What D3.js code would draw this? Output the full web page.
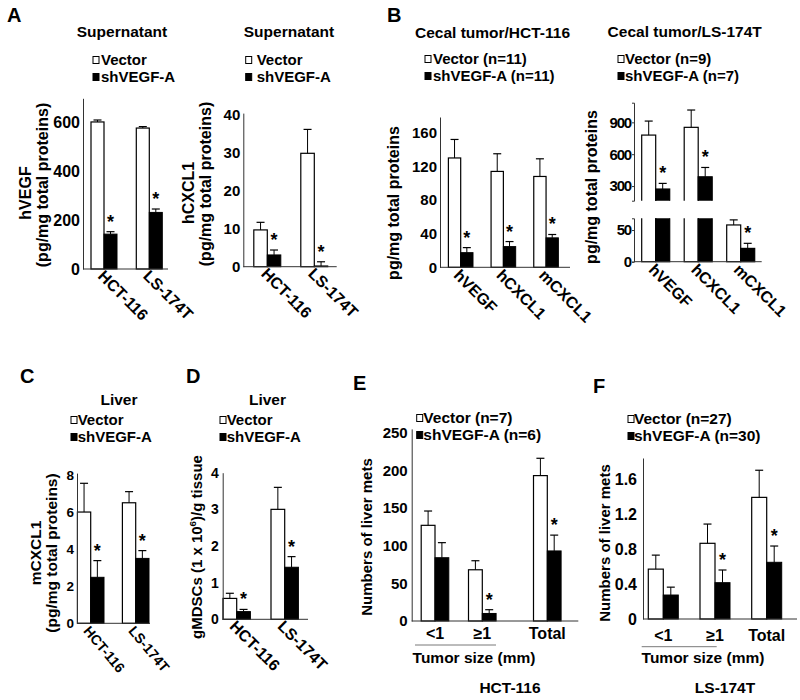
<!DOCTYPE html>
<html><head><meta charset="utf-8">
<script src="https://cdn.jsdelivr.net/npm/d3@7"></script>
<style>body{margin:0;background:#fff}</style>
</head><body><svg id="c" width="800" height="700"></svg>
<script>
// ---------------- DATA ----------------
const legendBasic = ["Vector", "shVEGF-A"];
// Panel A (Supernatant)
const cellLines = ["HCT-116", "LS-174T"];
const aVegfVector = [603, 578], aVegfVectorErr = [8, 6];
const aVegfSh = [143, 232], aVegfShErr = [10, 14];
const aVegfStars = [true, true];
const aVegfTicks = [0, 200, 400, 600];
const aCxclVector = [9.7, 29.9], aCxclVectorErr = [2.0, 6.3];
const aCxclSh = [3.1, 0.2], aCxclShErr = [1.3, 1.1];
const aCxclStars = [true, true];
const aCxclTicks = [0, 10, 20, 30, 40];
// Panel B (Cecal tumor)
const cytokines = ["hVEGF", "hCXCL1", "mCXCL1"];
const bHctLegend = ["Vector (n=11)", "shVEGF-A (n=11)"];
const bHctVector = [130, 114, 108], bHctVectorErr = [22, 21, 21];
const bHctSh = [17.4, 24.6, 35], bHctShErr = [6, 6, 4];
const bHctStars = [true, true, true];
const bHctTicks = [0, 40, 80, 120, 160];
const bLsLegend = ["Vector (n=9)", "shVEGF-A (n=7)"];
const bLsVector = [780, 853, 58], bLsVectorErr = [132, 163, 8];
const bLsSh = [272, 387, 21], bLsShErr = [53, 88, 8];
const bLsStars = [true, true, true];
const bLsTicksUpper = [300, 600, 900];
const bLsTicksLower = [0, 50];
// Panel C (Liver mCXCL1)
const cVector = [6.0, 6.5], cVectorErr = [1.55, 0.6];
const cSh = [2.48, 3.5], cShErr = [0.9, 0.42];
const cStars = [true, true];
const cTicks = [0, 2, 4, 6, 8];
// Panel D (Liver gMDSCs)
const dVector = [0.57, 3.0], dVectorErr = [0.14, 0.6];
const dSh = [0.21, 1.42], dShErr = [0.06, 0.29];
const dStars = [true, true];
const dTicks = [0, 1, 2, 3, 4];
// Panel E (HCT-116 liver mets)
const sizeCats = ["<1", "\u22651", "Total"];
const eLegend = ["Vector (n=7)", "shVEGF-A (n=6)"];
const eVector = [127, 68, 193], eVectorErr = [19, 12, 23];
const eSh = [84, 10, 93], eShErr = [20, 5, 21];
const eStars = [false, true, true];
const eTicks = [0, 50, 100, 150, 200, 250];
// Panel F (LS-174T liver mets)
const fLegend = ["Vector (n=27)", "shVEGF-A (n=30)"];
const fVector = [0.57, 0.865, 1.39], fVectorErr = [0.16, 0.22, 0.31];
const fSh = [0.274, 0.415, 0.648], fShErr = [0.09, 0.145, 0.186];
const fStars = [false, true, true];
const fTicks = [0, 0.4, 0.8, 1.2, 1.6];

// ---------------- DRAWING ----------------
const FONT = "'Liberation Sans', Arial, Helvetica, sans-serif";
const AX = "#333";
const svg = d3.select("#c").attr("font-family", FONT).attr("font-weight", "bold");
svg.append("rect").attr("width", 800).attr("height", 700).attr("fill", "#fff");
const defs = svg.append("defs");

function txt(g, s, x, y, size, anchor = "middle") {
  return g.append("text").attr("x", x).attr("y", y).attr("font-size", size)
    .attr("text-anchor", anchor).attr("fill", "#000").text(s);
}
function vtxt(g, s, x, y, size) {
  return g.append("text").attr("transform", `translate(${x},${y}) rotate(-90)`)
    .attr("text-anchor", "middle").attr("dy", "0.35em").attr("font-size", size).attr("fill", "#000").text(s);
}
function legend(g, o, labels) {
  labels.forEach((t, i) => {
    const yb = o.y + i * (o.dy || 17);
    g.append("rect").attr("x", o.x).attr("y", yb - 8.5).attr("width", 6).attr("height", 7)
      .attr("fill", i ? "#000" : "#fff").attr("stroke", "#000").attr("stroke-width", 1);
    txt(g, t, o.tx, yb, o.size || 15, "start");
  });
}
function errBar(g, cx, y0, y1) {
  g.append("line").attr("x1", cx).attr("x2", cx).attr("y1", y0).attr("y2", y1).attr("stroke", "#000").attr("stroke-width", 1);
  g.append("line").attr("x1", cx - 4).attr("x2", cx + 4).attr("y1", y1).attr("y2", y1).attr("stroke", "#000").attr("stroke-width", 1.2);
}
function star(g, cx, capY) {
  txt(g, "*", cx, capY - 4, 18);
}
function yAxis(g, x0, y, ticks, o) {
  const ax = g.append("g").attr("transform", `translate(${x0},0)`)
    .call(d3.axisLeft(y).tickValues(ticks).tickSize(o.tickSize || 0).tickSizeOuter(o.tickSize || 0)
      .tickPadding(o.tickPad).tickFormat(d3.format("")));
  ax.attr("font-size", o.tickFont).attr("font-family", FONT).attr("font-weight", "bold");
  ax.selectAll("text").attr("fill", "#000");
  if (o.tickSpacing) ax.selectAll("text").attr("letter-spacing", o.tickSpacing);
  ax.selectAll("line").attr("stroke", AX);
  ax.select(".domain").attr("stroke", AX);
  return ax;
}
function bandX(o) {
  const n = o.cats.length;
  const step = (o.band[1] - o.band[0]) / n;
  const pi = 1 - 2 * o.barW / step;
  return d3.scaleBand().domain(o.cats).range(o.band).paddingInner(pi).paddingOuter(pi / 2);
}
function xLabels(g, o, centers, y0) {
  o.cats.forEach((c, i) => {
    if (o.xRot) {
      g.append("text").attr("transform", `translate(${centers[i] + o.xdx},${y0 + o.xdy}) rotate(${o.xRot})`)
        .attr("font-size", o.xFont).attr("text-anchor", "start").attr("fill", "#000").text(c);
    } else {
      txt(g, c, centers[i], o.xLabelY, o.xFont);
    }
  });
}

function barPanel(o) {
  const g = svg.append("g");
  const x = bandX(o);
  const n = o.cats.length;
  const bw = x.bandwidth() / 2;
  const off = i => (i === n - 1 && o.lastGap) ? o.lastGap : 0;
  const y = d3.scaleLinear().domain(o.yDomain).range(o.yRange);
  const centers = [];
  o.cats.forEach((c, i) => {
    const xv = x(c) + off(i), xs = xv + bw;
    centers.push(xs);
    g.append("rect").attr("x", xv).attr("width", bw).attr("y", y(o.vec[i])).attr("height", y(0) - y(o.vec[i]))
      .attr("fill", "#fff").attr("stroke", "#000").attr("stroke-width", 1.2);
    errBar(g, xv + bw / 2, y(o.vec[i]), y(o.vec[i] + o.vecErr[i]));
    g.append("rect").attr("x", xs).attr("width", bw).attr("y", y(o.sh[i])).attr("height", y(0) - y(o.sh[i]))
      .attr("fill", "#000").attr("stroke", "#000").attr("stroke-width", 1);
    errBar(g, xs + bw / 2, y(o.sh[i]), y(o.sh[i] + o.shErr[i]));
    if (o.stars[i]) star(g, xs + bw / 2, y(o.sh[i] + o.shErr[i]));
  });
  yAxis(g, o.axisX[0], y, o.ticks, o);
  g.append("line").attr("x1", o.axisX[0]).attr("x2", o.axisX[1]).attr("y1", y(0)).attr("y2", y(0)).attr("stroke", AX);
  xLabels(g, o, centers, y(0));
  if (o.title) txt(g, o.title.text, o.title.x, o.title.y, 15.5);
  legend(g, o.legend, o.legendLabels);
  o.yLabels.forEach(l => {
    if (l.sup) {
      const t = g.append("text").attr("transform", `translate(${l.x},${l.y}) rotate(-90)`)
        .attr("text-anchor", "middle").attr("dy", "0.35em").attr("font-size", l.size).attr("fill", "#000");
      t.append("tspan").text(l.text[0]);
      t.append("tspan").attr("font-size", l.size * 0.65).attr("dy", -6).text(l.text[1]);
      t.append("tspan").attr("dy", 6).text(l.text[2]);
    } else vtxt(g, l.text, l.x, l.y, l.size);
  });
  if (o.letter) txt(g, o.letter.text, o.letter.x, o.letter.y, 20, "start");
  if (o.extra) o.extra(g, centers, y);
}

function brokenPanel(o) {
  const g = svg.append("g");
  const x = bandX(o);
  const bw = x.bandwidth() / 2;
  const yU = d3.scaleLinear().domain(o.yUDomain).range(o.yURange);
  const yL = d3.scaleLinear().domain(o.yLDomain).range(o.yLRange);
  defs.append("clipPath").attr("id", "clipU").append("rect")
    .attr("x", o.axisX[0]).attr("y", 0).attr("width", o.axisX[1] - o.axisX[0] + 20).attr("height", o.yURange[0]);
  defs.append("clipPath").attr("id", "clipL").append("rect")
    .attr("x", o.axisX[0]).attr("y", o.yLRange[1]).attr("width", o.axisX[1] - o.axisX[0] + 20)
    .attr("height", o.yLRange[0] - o.yLRange[1] + 5);
  const gU = g.append("g").attr("clip-path", "url(#clipU)");
  const gL = g.append("g").attr("clip-path", "url(#clipL)");
  const centers = [];
  function bar(xp, v, err, fill, hasStar) {
    if (v > o.yUDomain[0]) {
      gU.append("rect").attr("x", xp).attr("width", bw).attr("y", yU(v)).attr("height", o.yURange[0] + 4 - yU(v))
        .attr("fill", fill).attr("stroke", "#000").attr("stroke-width", 1.2);
    }
    const top = v > o.yLDomain[1] ? o.yLRange[1] - 4 : yL(v);
    gL.append("rect").attr("x", xp).attr("width", bw).attr("y", top).attr("height", yL(0) - top)
      .attr("fill", fill).attr("stroke", "#000").attr("stroke-width", 1.2);
    const ys = v > o.yUDomain[0] ? yU : yL;
    errBar(g, xp + bw / 2, ys(v), ys(v + err));
    if (hasStar) star(g, xp + bw / 2, ys(v + err));
  }
  o.cats.forEach((c, i) => {
    const xv = x(c), xs = xv + bw;
    centers.push(xs);
    bar(xv, o.vec[i], o.vecErr[i], "#fff", false);
    bar(xs, o.sh[i], o.shErr[i], "#000", o.stars[i]);
  });
  yAxis(g, o.axisX[0], yU, o.ticksU, o);
  yAxis(g, o.axisX[0], yL, o.ticksL, o);
  g.append("line").attr("x1", o.axisX[0]).attr("x2", o.axisX[1]).attr("y1", yL(0)).attr("y2", yL(0)).attr("stroke", AX);
  xLabels(g, o, centers, yL(0));
  txt(g, o.title.text, o.title.x, o.title.y, 15.5);
  legend(g, o.legend, o.legendLabels);
  o.yLabels.forEach(l => vtxt(g, l.text, l.x, l.y, l.size));
}

function sizeExtras(underline, cap, line) {
  return (g) => {
    g.append("line").attr("x1", underline[0]).attr("x2", underline[1]).attr("y1", underline[2]).attr("y2", underline[2])
      .attr("stroke", "#555").attr("stroke-width", 0.8);
    txt(g, "Tumor size (mm)", cap[0], cap[1], 15.5);
    txt(g, line[0], line[1], line[2], 15.5);
  };
}

// A left
barPanel({
  cats: cellLines, vec: aVegfVector, vecErr: aVegfVectorErr, sh: aVegfSh, shErr: aVegfShErr, stars: aVegfStars,
  axisX: [83, 168], band: [81.35, 171.95], barW: 13,
  yDomain: [0, 700], yRange: [269, 98.3], ticks: aVegfTicks, tickFont: 16, tickPad: 3,
  xRot: 45, xFont: 16, xdx: -7, xdy: 8,
  title: { text: "Supernatant", x: 122, y: 37 },
  legend: { x: 93, tx: 101, y: 65 }, legendLabels: legendBasic,
  yLabels: [{ text: "hVEGF", x: 25, y: 193, size: 16 }, { text: "(pg/mg total proteins)", x: 42, y: 185, size: 16 }],
  letter: { text: "A", x: 7, y: 22 }
});
// A right
barPanel({
  cats: cellLines, vec: aCxclVector, vecErr: aCxclVectorErr, sh: aCxclSh, shErr: aCxclShErr, stars: aCxclStars,
  axisX: [243.3, 336.7], band: [243.8, 337.8], barW: 13.5,
  yDomain: [0, 40.5], yRange: [266.7, 113.1], ticks: aCxclTicks, tickFont: 15, tickPad: 3,
  xRot: 45, xFont: 16, xdx: -7, xdy: 8,
  title: { text: "Supernatant", x: 289, y: 37 },
  legend: { x: 245.7, tx: 256.7, y: 65 }, legendLabels: legendBasic,
  yLabels: [{ text: "hCXCL1", x: 188, y: 193, size: 16 }, { text: "(pg/mg total proteins)", x: 205, y: 184, size: 16 }]
});
// B left
barPanel({
  cats: cytokines, vec: bHctVector, vecErr: bHctVectorErr, sh: bHctSh, shErr: bHctShErr, stars: bHctStars,
  axisX: [440, 570], band: [439.35, 567.4], barW: 12.3,
  yDomain: [0, 178.7], yRange: [267.3, 117], ticks: bHctTicks, tickFont: 15, tickPad: 3,
  xRot: 45, xFont: 16, xdx: -8, xdy: 9,
  title: { text: "Cecal tumor/HCT-116", x: 492.5, y: 38 },
  legend: { x: 425, tx: 433, y: 64 }, legendLabels: bHctLegend,
  yLabels: [{ text: "pg/mg total proteins", x: 393, y: 203, size: 16 }],
  letter: { text: "B", x: 387, y: 22 }
});
// B right (broken axis)
brokenPanel({
  cats: cytokines, vec: bLsVector, vecErr: bLsVectorErr, sh: bLsSh, shErr: bLsShErr, stars: bLsStars,
  axisX: [634, 761.7], band: [634.45, 761.95], barW: 14,
  yUDomain: [162, 1085], yURange: [200.7, 102.7], yLDomain: [0, 68.5], yLRange: [261.7, 218.3],
  ticksU: bLsTicksUpper, ticksL: bLsTicksLower, tickFont: 15, tickPad: 1, tickSize: 2, tickSpacing: -1.2,
  xRot: 45, xFont: 16, xdx: -8, xdy: 9,
  title: { text: "Cecal tumor/LS-174T", x: 684.7, y: 37 },
  legend: { x: 618, tx: 625, y: 64 }, legendLabels: bLsLegend,
  yLabels: [{ text: "pg/mg total proteins", x: 591, y: 187, size: 16 }]
});
// C
barPanel({
  cats: cellLines, vec: cVector, vecErr: cVectorErr, sh: cSh, shErr: cShErr, stars: cStars,
  axisX: [77, 150], band: [68.2, 158.2], barW: 13.3,
  yDomain: [0, 8.1], yRange: [623.3, 473.1], ticks: cTicks, tickFont: 13.5, tickPad: 3,
  xRot: 50, xFont: 14, xdx: -8, xdy: 8,
  title: { text: "Liver", x: 119, y: 405 },
  legend: { x: 71, tx: 77.7, y: 425 }, legendLabels: legendBasic,
  yLabels: [{ text: "mCXCL1", x: 36, y: 553, size: 15.5 }, { text: "(pg/mg total proteins)", x: 52, y: 553, size: 15.5 }],
  letter: { text: "C", x: 20, y: 383 }
});
// D
barPanel({
  cats: cellLines, vec: dVector, vecErr: dVectorErr, sh: dSh, shErr: dShErr, stars: dStars,
  axisX: [222.7, 308], band: [212.7, 308.7], barW: 13.7,
  yDomain: [0, 4], yRange: [619.3, 472.7], ticks: dTicks, tickFont: 14, tickPad: 4,
  xRot: 45, xFont: 16, xdx: -8, xdy: 8,
  title: { text: "Liver", x: 267.5, y: 405 },
  legend: { x: 220, tx: 226.7, y: 425 }, legendLabels: legendBasic,
  yLabels: [{ sup: true, text: ["gMDSCs (1 x 10", "6", ")/g tissue"], x: 197, y: 547, size: 15 }],
  letter: { text: "D", x: 186, y: 383 }
});
// E
barPanel({
  cats: sizeCats, vec: eVector, vecErr: eVectorErr, sh: eSh, shErr: eShErr, stars: eStars,
  axisX: [411.7, 578.3], band: [411.35, 553.25], barW: 13.8, lastGap: 17.7,
  yDomain: [0, 255], yRange: [621, 428.9], ticks: eTicks, tickFont: 15, tickPad: 4,
  xFont: 16, xLabelY: 639,
  legend: { x: 416.7, tx: 423.3, y: 423, dy: 17, size: 15.5 }, legendLabels: eLegend,
  yLabels: [{ text: "Numbers of liver mets", x: 367, y: 537, size: 15 }],
  letter: { text: "E", x: 353, y: 390 },
  extra: sizeExtras([415, 496, 645], [474, 663], ["HCT-116", 510, 693])
});
// F
barPanel({
  cats: sizeCats, vec: fVector, vecErr: fVectorErr, sh: fSh, shErr: fShErr, stars: fStars,
  axisX: [643, 797], band: [637.45, 792.55], barW: 15,
  yDomain: [0, 1.84], yRange: [619, 458], ticks: fTicks, tickFont: 16, tickPad: 6,
  xFont: 16, xLabelY: 641,
  legend: { x: 628, tx: 634, y: 424, dy: 17, size: 15.5 }, legendLabels: fLegend,
  yLabels: [{ text: "Numbers of liver mets", x: 605, y: 543, size: 15 }],
  letter: { text: "F", x: 593, y: 393 },
  extra: sizeExtras([641.7, 716.7, 646.7], [703, 663], ["LS-174T", 725, 693])
});
</script></body></html>
